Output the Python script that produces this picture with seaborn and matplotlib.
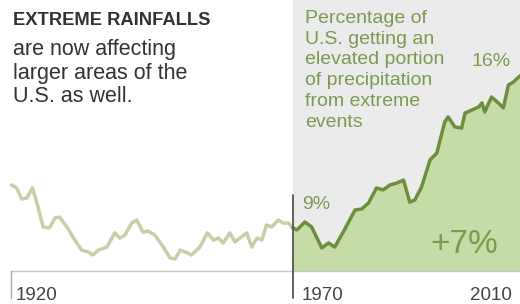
import pandas as pd
import matplotlib
matplotlib.use("Agg")
import matplotlib.pyplot as plt
import seaborn as sns

# -----------------------------
# Data
# -----------------------------
years = [1920.1, 1921.0, 1921.9, 1922.8, 1923.8, 1924.6, 1925.7, 1926.8, 1927.8, 1928.6,
         1929.9, 1931.0, 1932.5, 1933.7, 1934.5, 1935.5, 1937.0, 1938.4, 1939.3, 1940.2,
         1941.4, 1942.3, 1943.4, 1944.3, 1945.5, 1947.0, 1948.2, 1949.1, 1950.0, 1950.9,
         1952.0, 1953.5, 1954.8, 1955.9, 1956.8, 1957.6, 1958.8, 1959.7, 1960.6, 1961.8,
         1962.7, 1963.6, 1964.5, 1965.3, 1966.2, 1967.4, 1968.3, 1969.2, 1970.0, 1970.7,
         1972.1, 1973.3, 1975.1, 1976.3, 1977.4, 1978.9, 1981.0, 1982.2, 1983.4, 1984.8,
         1986.0, 1987.2, 1988.4, 1989.6, 1990.7, 1991.6, 1992.8, 1994.3, 1995.5, 1996.9,
         1997.5, 1998.7, 1999.9, 2000.5, 2001.7, 2002.9, 2003.5, 2004.0, 2005.2, 2006.4,
         2007.3, 2008.2, 2009.1, 2010.2]
pct = [10.87, 10.73, 10.21, 10.26, 10.73, 10.03, 8.91, 8.86, 9.33, 9.37,
       8.91, 8.44, 7.83, 7.74, 7.60, 7.83, 7.97, 8.63, 8.39, 8.53,
       9.09, 9.23, 8.67, 8.72, 8.53, 7.97, 7.46, 7.41, 7.83, 7.74,
       7.60, 7.97, 8.63, 8.30, 8.39, 8.16, 8.63, 8.21, 8.39, 8.63,
       7.97, 8.39, 8.30, 9.00, 8.91, 9.23, 9.09, 9.09, 8.86, 8.77,
       9.14, 8.91, 7.93, 8.16, 7.97, 8.67, 9.70, 9.75, 10.03, 10.73,
       10.64, 10.87, 10.96, 11.10, 10.07, 10.17, 10.78, 12.04, 12.36, 13.81,
       14.05, 13.58, 13.53, 14.23, 14.37, 14.51, 14.70, 14.28, 14.98, 14.70,
       14.47, 15.54, 15.68, 15.96]

split_year = 1970
baseline = 6.85
tick_years = [1920, 1970, 2010]
tick_labels = ["1920", "1970", "2010"]

df = pd.DataFrame({"year": years, "pct": pct})
before = df[df["year"] <= split_year]
after = df[df["year"] >= split_year]

# -----------------------------
# Style
# -----------------------------
sns.set_theme(style="white")
plt.rcParams["font.family"] = ["Liberation Sans", "DejaVu Sans"]

PALE = "#c8cfa6"
DARK = "#6b8f3e"
FILL = "#c6dca6"
SHADE = "#ebebeb"
TXT_GREEN = "#7b9b4f"
TXT = "#333333"

W, H = 520, 304
fig = plt.figure(figsize=(W / 100, H / 100), dpi=100)
ax = fig.add_axes([0, 0, 1, 1])
ax.axis("off")

base_frac = (H - 271) / H

# shaded "recent" panel
ax.axvspan(split_year, 2012, ymin=base_frac, ymax=1, color=SHADE, lw=0, zorder=0)

# area under recent line
ax.fill_between(after["year"], after["pct"], baseline, color=FILL, lw=0, zorder=1)

# lines
sns.lineplot(data=before, x="year", y="pct", ax=ax, color=PALE, lw=2.5,
             estimator=None, sort=False, zorder=2)
sns.lineplot(data=after, x="year", y="pct", ax=ax, color=DARK, lw=2.5,
             estimator=None, sort=False, zorder=3)
ax.set_xlim(1918.05, 2010.25)
ax.set_ylim(5.31, 19.51)

# baseline and ticks
ax.axhline(baseline, xmin=11 / W, xmax=1, color="#c4c4c4", lw=1.0, zorder=4)
ax.axvline(tick_years[0], ymin=6 / H, ymax=base_frac, color="#aaaaaa", lw=1.0, zorder=4)
ax.axvline(split_year, ymin=6 / H, ymax=(H - 195) / H, color="#555555", lw=1.3, zorder=5)

# year labels
aligns = ["left", "left", "right"]
offsets = [5, 9, -7]
for yr, lab, ha, off in zip(tick_years, tick_labels, aligns, offsets):
    ax.annotate(lab, xy=(yr, 0), xycoords=("data", "axes fraction"),
                xytext=(off * 0.72, 4 * 0.72), textcoords="offset points",
                ha=ha, va="baseline", fontsize=13.5, color="#444444")


def px(x, y):
    return x / W, 1 - y / H


# headline text
fig.text(*px(13, 25), "EXTREME RAINFALLS", fontsize=13.2, fontweight="bold",
         color=TXT, va="baseline")
body = ["are now affecting", "larger areas of the", "U.S. as well."]
for i, line in enumerate(body):
    fig.text(*px(13, 55 + i * 23.5), line, fontsize=15.5, color=TXT, va="baseline")

note = ["Percentage of", "U.S. getting an", "elevated portion",
        "of precipitation", "from extreme", "events"]
for i, line in enumerate(note):
    fig.text(*px(305, 23 + i * 20.7), line, fontsize=14, color=TXT_GREEN, va="baseline")

fig.text(*px(511, 66), "16%", fontsize=14, color=TXT_GREEN, ha="right", va="baseline")
fig.text(*px(302, 209), "9%", fontsize=14, color=TXT_GREEN, va="baseline")
fig.text(*px(464, 253), "+7%", fontsize=24, color=TXT_GREEN, ha="center", va="baseline")

fig.savefig("out.png", dpi=100)
